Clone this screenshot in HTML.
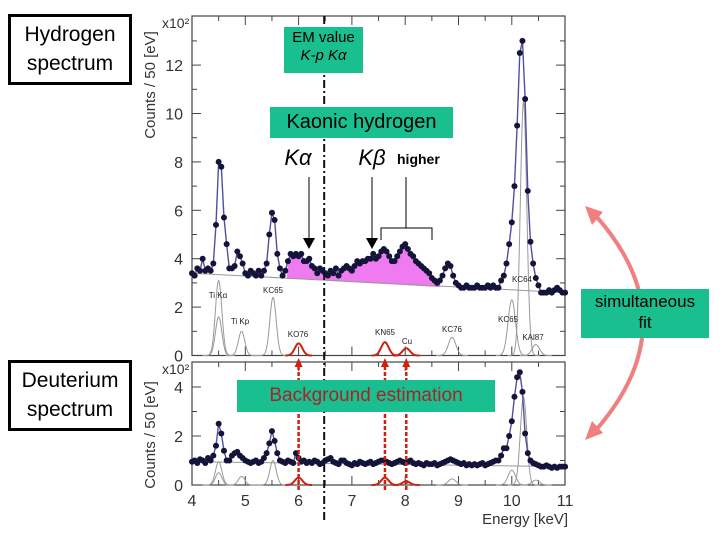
<!DOCTYPE html>
<html><head><meta charset="utf-8"><style>
body{margin:0;background:#fff;}
#wrap{position:relative;width:720px;height:540px;overflow:hidden;font-family:"Liberation Sans",sans-serif;}
.box{position:absolute;border:3px solid #000;background:#fff;text-align:center;font-size:21px;line-height:29px;color:#000;}
.g{position:absolute;background:#19bf8f;text-align:center;color:#000;}
</style></head><body>
<div id="wrap">
<svg id="svg" width="720" height="540" style="position:absolute;left:0;top:0"></svg>
<div class="box" style="left:8px;top:14px;width:118px;height:62px;padding-top:3px">Hydrogen<br>spectrum</div>
<div class="box" style="left:8px;top:360px;width:118px;height:62px;padding-top:3px">Deuterium<br>spectrum</div>
<div class="g" style="left:284px;top:27px;width:79px;height:44px;font-size:15px;line-height:18px;padding-top:2px">EM value<br><i>K-p Kα</i></div>
<div class="g" style="left:270px;top:107px;width:183px;height:31px;font-size:20px;line-height:31px">Kaonic hydrogen</div>
<div class="g" style="left:581px;top:289px;width:128px;height:47px;font-size:17px;line-height:21px;padding-top:2px">simultaneous<br>fit</div>
<div class="g" style="left:237px;top:380px;width:258px;height:32px;font-size:19px;line-height:32px;color:#a8232a">Background estimation</div>
</div>
<script>
const topData=[3.4,3.3,3.6,3.5,4.0,3.5,3.6,3.5,3.8,5.4,
8.0,7.8,5.7,4.6,3.6,3.6,3.7,4.3,4.1,3.8,
3.4,3.3,3.5,3.4,3.3,3.5,3.3,3.5,3.8,5.0,
5.9,5.6,4.2,3.6,3.3,3.5,3.9,4.2,4.1,4.2,
4.1,4.2,3.9,3.9,4.0,3.7,3.6,3.4,3.6,3.5,
3.4,3.3,3.5,3.4,3.6,3.3,3.5,3.6,3.7,3.6,
3.5,3.7,3.9,3.8,3.9,3.9,4.0,4.0,4.2,4.0,
4.1,4.3,4.4,4.3,4.1,3.9,3.9,4.1,4.3,4.5,
4.6,4.4,4.2,4.1,3.9,3.8,3.7,3.6,3.5,3.4,
3.2,3.1,3.0,3.1,3.3,3.6,3.8,3.7,3.3,3.0,
2.9,2.8,2.8,2.9,2.8,2.8,2.8,2.9,2.8,2.8,
2.8,2.9,2.8,2.9,2.8,2.8,3.1,3.3,3.8,4.6,
5.5,7.0,9.5,12.5,13.0,10.6,6.8,4.7,3.8,3.2,
2.9,2.6,2.6,2.6,2.7,2.6,2.7,2.8,2.7,2.6,2.6];
const botData=[0.95,1.0,0.9,1.05,1.0,0.9,1.1,1.0,1.2,1.6,
2.5,2.1,1.4,1.0,1.0,1.2,1.3,1.35,1.2,1.1,
1.0,0.95,0.9,0.95,1.0,0.9,0.95,1.1,1.3,1.7,
2.2,1.8,1.3,1.0,0.95,0.9,1.0,0.95,0.9,1.3,
1.1,0.95,1.0,0.9,0.95,0.9,1.0,0.95,0.85,0.9,
1.0,1.05,1.1,0.95,0.9,0.85,1.0,1.0,0.9,0.85,
0.8,0.9,0.85,0.95,0.9,0.85,0.9,0.95,0.85,0.9,
0.95,1.0,1.0,0.95,0.9,0.85,0.9,0.95,1.0,0.95,
0.9,0.95,1.0,0.9,0.85,0.9,0.85,0.8,0.9,0.85,
0.85,0.9,0.8,0.85,0.9,0.95,1.0,1.05,1.0,0.95,
0.9,0.85,0.9,0.8,0.85,0.8,0.85,0.8,0.85,0.9,
0.8,0.85,0.9,0.95,1.0,1.0,1.2,1.5,1.5,2.0,
2.6,3.6,4.4,4.6,3.8,2.1,1.3,1.0,0.9,0.85,
0.8,0.75,0.75,0.8,0.75,0.7,0.75,0.7,0.75,0.75,0.75];
const eStart=4.0, eStep=0.05;
const topBg=[3.4,2.6];
const botBg=[0.95,0.75];
const compE=[4.5,4.5,4.93,5.52,8.88,10.0,10.22,10.45];
const compH=[3.1,1.6,1.0,2.4,0.75,2.3,10.5,0.45];
const compW=[0.06,0.06,0.06,0.06,0.07,0.07,0.06,0.07];
const botCompH=[0.95,0.5,0.35,1.0,0.25,0.6,3.6,0.2];
const redE=[6.0,7.62,8.02];
const redH=[0.5,0.55,0.3];
const botRedH=[0.3,0.3,0.15];
const xTicks=[4,5,6,7,8,9,10,11];
const topYTicks=[0,2,4,6,8,10,12];
const botYTicks=[0,2,4];
const labels=[["Ti Kα",218,298],["Ti Kp",240,324],["KC65",273,293],["KO76",298,337],["KN65",385,335],["Cu",407,344],["KC76",452,332],["KC65",508,322],["KC64",522,282],["KAl87",533,340]];

const X=e=>192+(e-4)*53.3;
const Yt=v=>355.5-v*24.2;
const Yb=v=>485-v*24.5;
const svg=document.getElementById('svg');
const NS='http://www.w3.org/2000/svg';
function mk(tag,a){const el=document.createElementNS(NS,tag);for(const k in a)el.setAttribute(k,a[k]);svg.appendChild(el);return el;}
function bg(b,e){return b[0]+(b[1]-b[0])*(e-4)/6.5;}
function gauss(E,h,w,e){return h*Math.exp(-0.5*((e-E)/w)**2);}

{let pts=[];for(let i=0;i<topData.length;i++){const e=eStart+i*eStep;if(e>=5.78&&e<=8.66)pts.push(X(e)+','+Yt(Math.max(topData[i],bg(topBg,e))));}
pts.push(X(8.66)+','+Yt(bg(topBg,8.66)));pts.push(X(5.78)+','+Yt(bg(topBg,5.78)));
const p=mk('polygon',{points:pts.join(' '),fill:'#f07af0'});

}

function panel(yf,data,bgv,ch,rh,top,bot,ticks,name){
 const f=mk('rect',{x:192,y:top,width:373,height:bot-top,fill:'none',stroke:'#444','stroke-width':1.2});
 
 
 for(let v=0;yf(v)>top+2;v+=1){const y=yf(v);const l=v%2==0?9:5;
  const t1=mk('line',{x1:192,x2:192+l,y1:y,y2:y,stroke:'#444'});
  
  
  const t2=mk('line',{x1:565,x2:565-l,y1:y,y2:y,stroke:'#444'});
  
  }
 for(let e=4.5;e<11;e+=0.5){const l=(e%1==0)?9:5;
  const t=mk('line',{x1:X(e),x2:X(e),y1:bot,y2:bot-l,stroke:'#444'});
  
  
  const t3=mk('line',{x1:X(e),x2:X(e),y1:top,y2:top+l,stroke:'#444'});
  
  }
 ticks.forEach(v=>{const t=mk('text',{x:183,y:yf(v)+6,'text-anchor':'end','font-size':16,fill:'#333'});t.textContent=v;
  
  });
 const bl=mk('line',{x1:X(4),x2:X(11),y1:yf(bg(bgv,4)),y2:yf(Math.max(bg(bgv,11),bgv[1])),stroke:'#999','stroke-width':1});
 
 
 compE.forEach((E,k)=>{let pts=[];for(let e=E-0.3;e<=E+0.3;e+=0.01)pts.push(X(e)+','+yf(gauss(E,ch[k],compW[k],e)));
  const p=mk('polyline',{points:pts.join(' '),fill:'none',stroke:'#999','stroke-width':1});
  
  });
 redE.forEach((E,k)=>{let pts=[];for(let e=E-0.25;e<=E+0.25;e+=0.01)pts.push(X(e)+','+yf(gauss(E,rh[k],0.07,e)));
  const p=mk('polyline',{points:pts.join(' '),fill:'none',stroke:'#d02010','stroke-width':2});
  
  });
 let pts=data.map((v,i)=>X(eStart+i*eStep)+','+yf(v));
 const fl=mk('polyline',{points:pts.join(' '),fill:'none',stroke:'#5050a0','stroke-width':1.4});
 
 
 data.forEach((v,i)=>{const c=mk('circle',{cx:X(eStart+i*eStep),cy:yf(v),r:3,fill:'#14143a'});
  
  });
 const x2=mk('text',{x:162,y:top+12,'font-size':14,fill:'#333'});x2.textContent='x10²';
 
 
}
panel(Yt,topData,topBg,compH,redH,16,355.5,topYTicks,'top');
panel(Yb,botData,botBg,botCompH,botRedH,362,485,botYTicks,'bottom');

[[155,85],[155,435]].forEach(([x,y],k)=>{const t=mk('text',{x:x,y:y,'text-anchor':'middle','font-size':15,fill:'#333',transform:`rotate(-90 ${x} ${y})`});t.textContent='Counts / 50 [eV]';
 
 });
xTicks.forEach(e=>{const t=mk('text',{x:X(e),y:506,'text-anchor':'middle','font-size':16,fill:'#333'});t.textContent=e;
 
 });
{const t=mk('text',{x:568,y:524,'text-anchor':'end','font-size':15,fill:'#333'});t.textContent='Energy [keV]';
 
 }
labels.forEach(([s,x,y])=>{const t=mk('text',{x:x,y:y,'text-anchor':'middle','font-size':8,fill:'#222'});t.textContent=s;
 
 });

{const l=mk('line',{x1:X(6.48),x2:X(6.48),y1:16,y2:522,stroke:'#111','stroke-width':2,'stroke-dasharray':'8 3 2 3'});
 
 }
[['Kα',298,165],['Kβ',372,165]].forEach(([s,x,y])=>{const t=mk('text',{x:x,y:y,'text-anchor':'middle','font-size':22,'font-style':'italic',fill:'#000'});t.textContent=s;
 
 });
{const t=mk('text',{x:397,y:164,'font-size':14,'font-weight':'bold',fill:'#000'});t.textContent='higher';
 
 }
[309,372].forEach(x=>{const l=mk('line',{x1:x,x2:x,y1:177,y2:240,stroke:'#000','stroke-width':1});
 
 
 const h=mk('polygon',{points:`${x-6},238 ${x+6},238 ${x},249`,fill:'#000'});
 
 });
{const b=mk('polyline',{points:'381,240 381,228 432,228 432,240',fill:'none',stroke:'#000','stroke-width':1});
 
 
 const v=mk('line',{x1:406,x2:406,y1:177,y2:228,stroke:'#000','stroke-width':1});
 
 }
redE.forEach(E=>{const x=X(E);const l=mk('line',{x1:x,x2:x,y1:490,y2:366,stroke:'#d02010','stroke-width':2.5,'stroke-dasharray':'4 2'});
 
 
 const h=mk('polygon',{points:`${x-4},367 ${x+4},367 ${x},358`,fill:'#d02010'});
 
 });
{const p=mk('path',{d:'M596,216 Q690,322 596,430',fill:'none',stroke:'#f08080','stroke-width':4});
 
 
 const h1=mk('polygon',{points:'585,206 603,212 592,225',fill:'#f08080'});
 
 
 const h2=mk('polygon',{points:'585,440 603,433 592,421',fill:'#f08080'});
 
 }
</script>
</body></html>
